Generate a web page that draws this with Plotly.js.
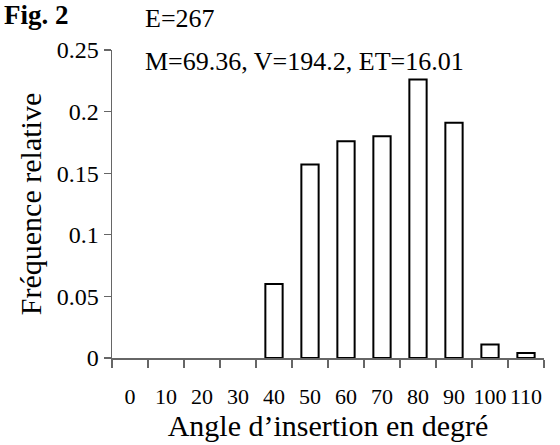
<!DOCTYPE html>
<html>
<head>
<meta charset="utf-8">
<script src="https://cdn.plot.ly/plotly-3.0.1.min.js"></script>
<style>html,body{margin:0;padding:0;background:#fff;}#chart{width:560px;height:445px;}</style>
</head>
<body>
<div id="chart"></div>
<script>
const categories = ["0","10","20","30","40","50","60","70","80","90","100","110"];
const frequencies = [0, 0, 0, 0, 0.060, 0.157, 0.176, 0.180, 0.226, 0.191, 0.011, 0.004];
const yTickValues = [0, 0.05, 0.1, 0.15, 0.2, 0.25];
const yTickLabels = ["0", "0.05", "0.1", "0.15", "0.2", "0.25"];

const font = "Liberation Serif, Times New Roman, serif";
const plotW = 432, plotH = 307.7;

const trace = {
  type: "bar",
  x: categories,
  y: frequencies,
  marker: {
    color: "#ffffff",
    line: {color: "#000000", width: frequencies.map(v => v > 0 ? 2 : 0)}
  },
  hoverinfo: "x+y"
};

const layout = {
  width: 560, height: 445,
  margin: {l: 112, r: 16, t: 50, b: 87.3},
  paper_bgcolor: "#fff", plot_bgcolor: "#fff",
  showlegend: false,
  bargap: 0.52,
  font: {family: font, color: "#000"},
  xaxis: {
    type: "category",
    tickson: "boundaries",
    tickangle: 0,
    ticks: "outside", ticklen: 8, tickcolor: "#666", tickwidth: 1.2,
    showline: true, linecolor: "#666", linewidth: 1.5,
    showgrid: false, zeroline: false,
    tickfont: {family: font, size: 22, color: "#000"},
    ticklabelstandoff: 18,
    title: {text: "Angle d’insertion en degré", font: {family: font, size: 30, color: "#000"}, standoff: 0}
  },
  yaxis: {
    range: [0, 0.25],
    tickvals: yTickValues, ticktext: yTickLabels,
    ticks: "outside", ticklen: 7, tickcolor: "#666", tickwidth: 1.2,
    showline: true, linecolor: "#666", linewidth: 1.5,
    showgrid: false, zeroline: false,
    tickfont: {family: font, size: 24, color: "#000"},
    title: {text: "Fréquence relative", font: {family: font, size: 30, color: "#000"}, standoff: 6}
  },
  annotations: [
    {text: "<b>Fig. 2</b>", xref: "paper", yref: "paper", x: -110/plotW, y: 1 + (50 - 15)/plotH, xanchor: "left", yanchor: "middle", showarrow: false, font: {family: font, size: 27, color: "#000"}},
    {text: "E=267", xref: "paper", yref: "paper", x: 31/plotW, y: 1 + (50 - 19)/plotH, xanchor: "left", yanchor: "middle", showarrow: false, font: {family: font, size: 26, color: "#000"}},
    {text: "M=69.36, V=194.2, ET=16.01", xref: "paper", yref: "paper", x: 31/plotW, y: 1 + (50 - 61)/plotH, xanchor: "left", yanchor: "middle", showarrow: false, font: {family: font, size: 26, color: "#000"}}
  ]
};

Plotly.newPlot("chart", [trace], layout, {displayModeBar: false, staticPlot: true});
</script>
</body>
</html>
